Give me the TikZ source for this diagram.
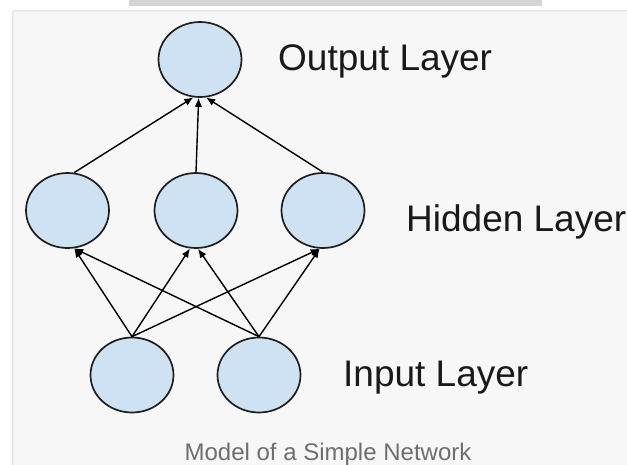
\documentclass[tikz,border=0pt]{standalone}
\usepackage{fontspec}
\setmainfont{Liberation Sans}
\usetikzlibrary{shapes.geometric,arrows.meta}
\definecolor{panelfill}{HTML}{F7F7F7}
\definecolor{panelline}{HTML}{E4E4E4}
\definecolor{stripgray}{HTML}{D4D4D4}
\definecolor{neuronfill}{HTML}{CFE2F3}
\definecolor{neuronline}{HTML}{1E1E1E}
\definecolor{captiongray}{HTML}{6E6E6E}
\tikzset{
  neuron/.style={ellipse, draw=neuronline, fill=neuronfill, line width=1.7pt,
    minimum width=83pt, minimum height=75pt, inner sep=0pt},
  link/.style={line width=1.4pt, draw=black, -{Latex[length=9pt,width=7.5pt]}},
  layerlabel/.style={anchor=base west, inner sep=0pt, text=black!90, font=\fontsize{37}{40}\selectfont},
  caption/.style={anchor=base, inner sep=0pt, text=captiongray, font=\fontsize{24}{28}\selectfont}
}
\begin{document}
\begin{tikzpicture}[x=1pt, y=-1pt]
  \useasboundingbox (0,0) rectangle (627,464);
  \clip (0,0) rectangle (627,464);
  \fill[white] (0,0) rectangle (627,464);
  % strip left over from the page above
  \fill[stripgray] (129,0) rectangle (542,5.5);
  % panel
  \draw[draw=panelline, fill=panelfill, line width=1.5pt, rounded corners=3pt]
    (12.5,10.5) rectangle (660,500);

  % neurons
  \node[neuron] (o)  at (200,59.5) {};
  \node[neuron] (h1) at (67.5,210.5) {};
  \node[neuron] (h2) at (196,210.5) {};
  \node[neuron] (h3) at (323,210.5) {};
  \node[neuron] (i1) at (132,375) {};
  \node[neuron] (i2) at (259,375) {};

  % input -> hidden
  \draw[link] (i1.north) -- (h1.280);
  \draw[link] (i1.north) -- (h2.261);
  \draw[link] (i1.north) -- (h3.265);
  \draw[link] (i2.north) -- (h1.280);
  \draw[link] (i2.north) -- (h2.273);
  \draw[link] (i2.north) -- (h3.265);

  % hidden -> output
  \draw[link] (h1.80) -- (o.260);
  \draw[link] (h2.north) -- (o.268);
  \draw[link] (h3.north) -- (o.279);

  % labels
  \node[layerlabel] (lo) at (278,70) {Output Layer};
  \node[layerlabel] (lh) at (406,231) {Hidden Layer};
  \node[layerlabel] (li) at (343,386.5) {Input Layer};
  \node[caption] (cap) at (328,460) {Model of a Simple Network};
\end{tikzpicture}
\end{document}
